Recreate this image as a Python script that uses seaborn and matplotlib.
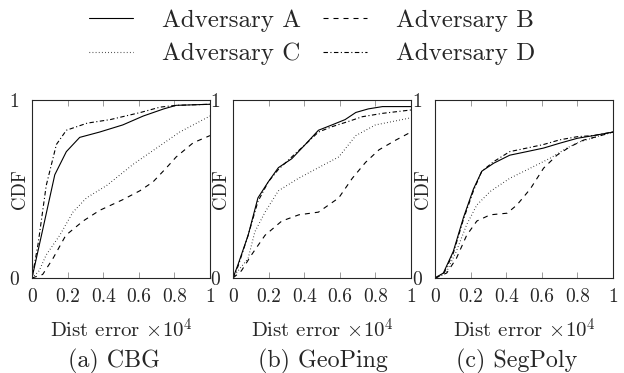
import numpy as np
import pandas as pd
import matplotlib
matplotlib.use("Agg")
import matplotlib.pyplot as plt
import seaborn as sns

# Werte (x in 10^4, y = CDF)
panels = ["(a) CBG", "(b) GeoPing", "(c) SegPoly"]
adversaries = ["Adversary A", "Adversary B", "Adversary C", "Adversary D"]

cbg_a_x = [0, 0.062, 0.128, 0.193, 0.268, 0.38, 0.51, 0.625, 0.74, 0.81, 1.0]
cbg_a_y = [0, 0.28, 0.58, 0.71, 0.79, 0.82, 0.86, 0.91, 0.95, 0.97, 0.976]
cbg_b_x = [0, 0.06, 0.118, 0.19, 0.287, 0.38, 0.51, 0.606, 0.68, 0.756, 0.81, 0.906, 1.0]
cbg_b_y = [0, 0.02, 0.11, 0.24, 0.32, 0.38, 0.44, 0.49, 0.54, 0.62, 0.68, 0.76, 0.80]
cbg_c_x = [0, 0.04, 0.08, 0.156, 0.23, 0.306, 0.42, 0.57, 0.70, 0.83, 1.0]
cbg_c_y = [0, 0.04, 0.13, 0.24, 0.37, 0.45, 0.52, 0.64, 0.73, 0.82, 0.91]
cbg_d_x = [0, 0.034, 0.08, 0.137, 0.193, 0.31, 0.44, 0.61, 0.72, 0.81, 1.0]
cbg_d_y = [0, 0.19, 0.52, 0.75, 0.83, 0.87, 0.89, 0.93, 0.96, 0.97, 0.976]

geo_a_x = [0, 0.028, 0.085, 0.14, 0.198, 0.255, 0.33, 0.406, 0.48, 0.556, 0.63, 0.69, 0.76, 0.84, 1.0]
geo_a_y = [0, 0.075, 0.24, 0.45, 0.54, 0.62, 0.67, 0.75, 0.83, 0.86, 0.89, 0.93, 0.95, 0.963, 0.963]
geo_b_x = [0, 0.047, 0.104, 0.18, 0.274, 0.37, 0.48, 0.594, 0.67, 0.745, 0.82, 0.915, 1.0]
geo_b_y = [0, 0.04, 0.13, 0.24, 0.32, 0.355, 0.37, 0.45, 0.56, 0.65, 0.72, 0.775, 0.82]
geo_c_x = [0, 0.028, 0.085, 0.123, 0.18, 0.255, 0.368, 0.48, 0.594, 0.69, 0.80, 1.0]
geo_c_y = [0, 0.04, 0.11, 0.26, 0.37, 0.49, 0.56, 0.62, 0.68, 0.80, 0.86, 0.90]
geo_d_x = [0, 0.028, 0.085, 0.14, 0.198, 0.255, 0.33, 0.406, 0.48, 0.556, 0.65, 0.726, 0.84, 1.0]
geo_d_y = [0, 0.065, 0.24, 0.43, 0.54, 0.61, 0.68, 0.75, 0.82, 0.85, 0.88, 0.906, 0.925, 0.944]

seg_a_x = [0, 0.047, 0.103, 0.16, 0.216, 0.263, 0.33, 0.42, 0.516, 0.61, 0.70, 0.80, 0.89, 1.0]
seg_a_y = [0, 0.028, 0.15, 0.34, 0.50, 0.60, 0.645, 0.69, 0.71, 0.73, 0.757, 0.785, 0.80, 0.82]
seg_b_x = [0, 0.066, 0.12, 0.178, 0.235, 0.31, 0.405, 0.46, 0.535, 0.61, 0.685, 0.76, 0.835, 0.91, 1.0]
seg_b_y = [0, 0.028, 0.11, 0.24, 0.32, 0.355, 0.364, 0.41, 0.50, 0.617, 0.69, 0.738, 0.775, 0.794, 0.82]
seg_c_x = [0, 0.066, 0.12, 0.178, 0.235, 0.31, 0.42, 0.535, 0.647, 0.74, 0.816, 0.91, 1.0]
seg_c_y = [0, 0.037, 0.15, 0.30, 0.41, 0.486, 0.56, 0.617, 0.673, 0.73, 0.766, 0.794, 0.82]
seg_d_x = [0, 0.047, 0.103, 0.16, 0.216, 0.263, 0.33, 0.42, 0.516, 0.61, 0.70, 0.80, 0.89, 1.0]
seg_d_y = [0, 0.02, 0.14, 0.33, 0.49, 0.60, 0.654, 0.71, 0.73, 0.75, 0.776, 0.794, 0.80, 0.82]

xticks = [0, 0.2, 0.4, 0.6, 0.8, 1]
xticklabels = ["0", "0.2", "0.4", "0.6", "0.8", "1"]

# Tabelle im Long-Format aufbauen
rows = []
data = {
    panels[0]: [(cbg_a_x, cbg_a_y), (cbg_b_x, cbg_b_y), (cbg_c_x, cbg_c_y), (cbg_d_x, cbg_d_y)],
    panels[1]: [(geo_a_x, geo_a_y), (geo_b_x, geo_b_y), (geo_c_x, geo_c_y), (geo_d_x, geo_d_y)],
    panels[2]: [(seg_a_x, seg_a_y), (seg_b_x, seg_b_y), (seg_c_x, seg_c_y), (seg_d_x, seg_d_y)],
}
for p in panels:
    for adv, (xs, ys) in zip(adversaries, data[p]):
        for x, y in zip(xs, ys):
            rows.append({"panel": p, "adv": adv, "x": x, "y": y})
df = pd.DataFrame(rows)

sns.set_style("ticks")
plt.rcParams["font.family"] = ["cmr10", "DejaVu Serif"]
plt.rcParams["mathtext.fontset"] = "cm"
plt.rcParams["axes.formatter.use_mathtext"] = True

styles = {
    "Adversary A": "-",
    "Adversary B": (0, (4.5, 4.5)),
    "Adversary C": (0, (0.6, 2.2)),
    "Adversary D": (0, (4, 2.2, 1, 2.2)),
}

fig = plt.figure(figsize=(6.24, 3.73), dpi=100)
lefts = [32 / 624, 233 / 624, 435 / 624]
w = 178 / 624
b = 95 / 373
h = 178 / 373
# Untertitel leicht versetzt wie im Original
cap_x = [0.46, 0.505, 0.46]

handles = {}
for i, p in enumerate(panels):
    ax = fig.add_axes([lefts[i], b, w, h])
    sub = df[df["panel"] == p]
    for adv in adversaries:
        d = sub[sub["adv"] == adv]
        sns.lineplot(data=d, x="x", y="y", ax=ax, color="black", lw=0.8,
                     linestyle=styles[adv], estimator=None, sort=False)
        handles[adv] = ax.lines[-1]
    ax.set_xlim(0, 1)
    ax.set_ylim(0, 1)
    ax.set_xticks(xticks)
    ax.set_xticklabels(xticklabels, fontsize=14)
    ax.set_yticks([0, 1])
    ax.set_yticklabels(["0", "1"], fontsize=14)
    ax.tick_params(axis="x", direction="in", top=True, length=4.5, width=0.5, pad=7, color="0.45")
    ax.tick_params(axis="y", length=0, pad=9.5)
    for s in ax.spines.values():
        s.set_visible(True)
        s.set_linewidth(0.8)
    ax.set_ylabel("CDF", fontsize=13.5)
    ax.yaxis.set_label_coords(-0.017, 0.5)
    ax.set_xlabel(r"Dist error $\times10^4$", fontsize=15, labelpad=8.5)
    ax.text(cap_x[i], -0.47, p, transform=ax.transAxes, ha="center", va="center", fontsize=17.3)

order = ["Adversary A", "Adversary C", "Adversary B", "Adversary D"]
fig.legend([handles[a] for a in order], order, ncol=2, frameon=False,
           loc="center", bbox_to_anchor=(0.5, 0.9), fontsize=18,
           handlelength=1.75, handletextpad=1.15, columnspacing=0.9,
           labelspacing=0.44)

fig.savefig("out.png", dpi=100)
